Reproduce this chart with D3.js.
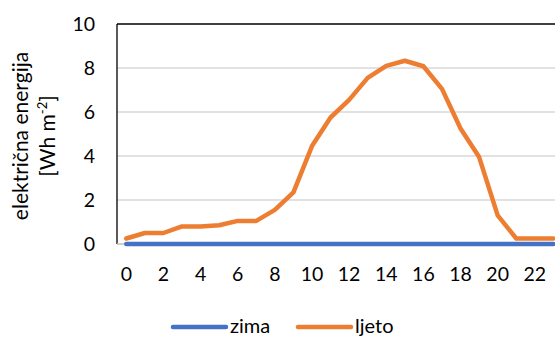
<!DOCTYPE html>
<html><head><meta charset="utf-8">
<script src="https://cdn.jsdelivr.net/npm/d3@7"></script>
<style>body{margin:0;background:#fff;overflow:hidden}svg{display:block}text{font-family:Lato,"Open Sans",sans-serif;fill:#000}</style>
</head><body>
<svg id="c" width="555" height="338"></svg>
<script>
const hours = d3.range(0, 24);
const zima = [0,0,0,0,0,0,0,0,0,0,0,0,0,0,0,0,0,0,0,0,0,0,0,0];
const ljeto = [0.25,0.5,0.5,0.8,0.8,0.85,1.05,1.05,1.55,2.35,4.45,5.75,6.55,7.55,8.1,8.33,8.08,7.05,5.25,3.95,1.3,0.25,0.25,0.25];
const yTicks = [0,2,4,6,8,10];
const xTicks = [0,2,4,6,8,10,12,14,16,18,20,22];
const seriesNames = ["zima","ljeto"];
const colors = ["#4472C4","#ED7D31"];

const svg = d3.select("#c");
const mLeft = 117, mTop = 24, mBottom = 244, step = 18.57;
const x = d3.scaleBand().domain(hours).range([mLeft, mLeft + step*24]);
const y = d3.scaleLinear().domain([0,10]).range([mBottom, mTop]);

// gridlines
svg.append("g").selectAll("line").data(yTicks.filter(d=>d>0 && d<10)).join("line")
  .attr("x1", mLeft).attr("x2", 555).attr("y1", d=>y(d)).attr("y2", d=>y(d))
  .attr("stroke", "#D9D9D9").attr("stroke-width", 1.3);

// frame
svg.append("line").attr("x1", mLeft).attr("x2", 555).attr("y1", y(10)).attr("y2", y(10)).attr("stroke","#000").attr("stroke-width",1.3);
svg.append("line").attr("x1", mLeft).attr("x2", mLeft).attr("y1", y(10)).attr("y2", y(0)).attr("stroke","#000").attr("stroke-width",1.3);
svg.append("line").attr("x1", mLeft).attr("x2", 555).attr("y1", y(0)).attr("y2", y(0)).attr("stroke","#BFBFBF").attr("stroke-width",1.3);

// y tick labels
svg.append("g").selectAll("text").data(yTicks).join("text")
  .attr("x", 95).attr("y", d=>y(d)).attr("dy","0.36em").attr("text-anchor","end")
  .style("font-size","19.5px").text(d=>d);

// x tick labels
svg.append("g").selectAll("text").data(xTicks).join("text")
  .attr("x", d=>x(d)+x.bandwidth()/2).attr("y", 274).attr("dy","0.36em").attr("text-anchor","middle")
  .style("font-size","19.5px").text(d=>d);

// lines
const line = d3.line().x((d,i)=>x(hours[i])+x.bandwidth()/2).y(d=>y(d));
[zima, ljeto].forEach((s,i)=>{
  svg.append("path").datum(s).attr("d", line).attr("fill","none")
    .attr("stroke", colors[i]).attr("stroke-width", 4.5).attr("stroke-linejoin","round").attr("stroke-linecap","round");
});

// y axis title
const yt = svg.append("text").attr("transform","translate(0,136) rotate(-90)").attr("text-anchor","middle").style("font-size","21px");
yt.append("tspan").attr("x",0).attr("y",28).text("električna energija");
const l2 = yt.append("tspan").attr("x",0).attr("y",55);
l2.append("tspan").text("[Wh m");
l2.append("tspan").attr("dy",-8).style("font-size","13px").text("-2");
l2.append("tspan").attr("dy",8).text("]");

// legend
const leg = [{x1:173,x2:226,tx:230},{x1:298,x2:351,tx:355}];
seriesNames.forEach((n,i)=>{
  svg.append("line").attr("x1",leg[i].x1).attr("x2",leg[i].x2).attr("y1",327).attr("y2",327)
    .attr("stroke",colors[i]).attr("stroke-width",4.5).attr("stroke-linecap","round");
  svg.append("text").attr("x",leg[i].tx).attr("y",333).style("font-size","20px").text(n);
});
</script>
</body></html>
